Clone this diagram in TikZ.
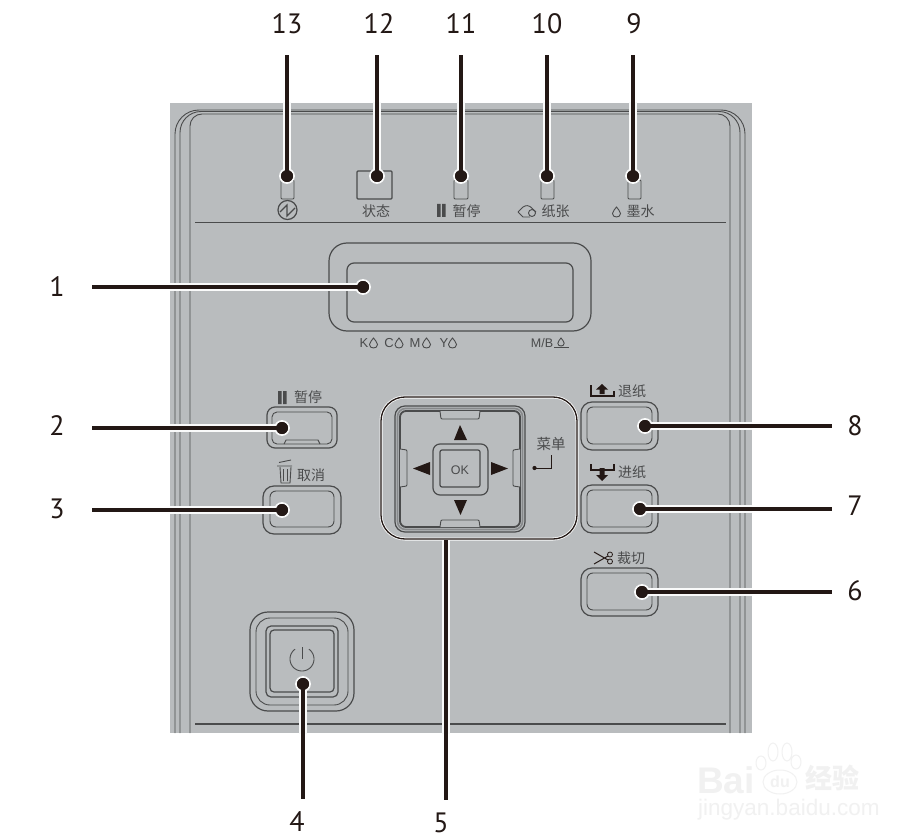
\documentclass[tikz,border=0pt]{standalone}
\usepackage{fontspec}
\setmainfont{PT Sans}
\newfontfamily\cjk{Noto Sans CJK SC}
\newfontfamily\lato{Liberation Sans}
\definecolor{panel}{HTML}{B9BCBE}
\definecolor{ink}{HTML}{231815}
\definecolor{ln}{HTML}{4A4B4C}
\definecolor{tx}{HTML}{4A4B4C}
\definecolor{wm}{HTML}{F1F1F1}
\tikzset{
  x=1pt,y=-1pt,
  pl/.style={draw=ln,line width=0.9pt},
  plb/.style={draw=ln,line width=1.2pt},
  halo/.style={draw=white!92!panel,line width=8pt},
  leader/.style={draw=ink,line width=4.4pt},
  dotn/.style={circle,fill=ink,draw=white!92!panel,line width=1.8pt,minimum size=14pt,inner sep=0pt},
  numt/.style={font=\fontsize{28}{28}\selectfont,text=ink,inner sep=0pt,minimum height=62pt,minimum width=20pt},
  numl/.style={font=\fontsize{28}{28}\selectfont,text=ink,inner sep=0pt,minimum width=70pt},
  numr/.style={font=\fontsize{28}{28}\selectfont,text=ink,inner sep=0pt,minimum width=46pt},
  numb/.style={font=\fontsize{28}{28}\selectfont,text=ink,inner sep=0pt,minimum height=46pt},
  cn/.style={font=\cjk\fontsize{14}{14}\selectfont,text=tx,inner sep=0pt},
  la/.style={font=\lato\fontsize{13}{13}\selectfont,text=tx,inner sep=0pt},
  wmt/.style={text=wm,inner sep=0pt},
  drop/.pic={\draw[draw=ln,line width=0.9pt] (0,-5) .. controls (-1,-3) and (-4,-1) .. (-4,1.5) .. controls (-4,4) and (-2,5) .. (0,5) .. controls (2,5) and (4,4) .. (4,1.5) .. controls (4,-1) and (1,-3) .. (0,-5) -- cycle;},
}
\begin{document}
\begin{tikzpicture}
\useasboundingbox (0,0) rectangle (911,840);
\fill[white] (0,0) rectangle (911,840);
% watermark
\node[wmt,font=\lato\bfseries\fontsize{37}{37}\selectfont,anchor=west] (wb) at (697,780) {Bai};
\node[wmt,font=\lato\bfseries\fontsize{16}{16}\selectfont] (wd) at (780,782) {du};
\node[wmt,font=\cjk\bfseries\fontsize{27}{27}\selectfont,anchor=west] (wj) at (805,778) {经验};
\node[wmt,font=\lato\fontsize{22.5}{23}\selectfont,anchor=west] (wu) at (698,810) {jingyan.baidu.com};
\draw[wm,line width=1pt] (773,752) ellipse (5 and 9) (787,752) ellipse (5 and 9) (761,763) ellipse (5 and 7) (796,762) ellipse (5 and 7) (780,782) ellipse (17 and 12);
% panel
\fill[panel] (170,103) rectangle (752,733);
\draw[pl,rounded corners=24] (175,733) -- (175,110) -- (745,110) -- (745,733);
\draw[pl,rounded corners=21] (180,733) -- (180,111.5) -- (740,111.5) -- (740,733);
\draw[pl,rounded corners=12] (190,733) -- (190,114) -- (730,114) -- (730,733);
\draw[plb] (195,222.7) -- (726,222.7);
\draw[plb] (195,724) -- (726,724);
% LEDs
\draw[pl,rounded corners=1] (281,180) rectangle (294,199);
\draw[plb,rounded corners=1] (357,171) rectangle (392,199);
\draw[pl,rounded corners=1] (454,180) rectangle (468,199);
\draw[pl,rounded corners=1] (541,180) rectangle (554,199);
\draw[pl,rounded corners=1] (628,180) rectangle (641,199);
% LED captions
\draw[plb] (287.5,210) circle (9.5);
\draw[plb] (280,212) -- (287,205) -- (287,216) -- (295,208);
\node[cn] (c12) at (376,211) {状态};
\fill[ln] (437,204) rectangle (440.5,217) (442,204) rectangle (445.5,217);
\node[cn] (c11) at (466.5,211) {暂停};
\draw[pl,rounded corners=1.5] (518,212) -- (524,206) -- (529,205.5) -- (536,212);
\draw[pl] (518,212) -- (523,217) -- (530,217);
\draw[pl] (532,213) circle (3.5);
\node[cn] (c10) at (555.5,211) {纸张};
\pic at (616.5,212) {drop};
\node[cn] (c9) at (640.5,211) {墨水};
% display
\draw[plb,rounded corners=18] (329,243) rectangle (591,331);
\draw[plb,rounded corners=7] (347,263) rectangle (573,322);
% ink labels
\node[la] (ik) at (364,343) {K};
\pic at (373.5,343) {drop};
\node[la] (ic) at (389,343) {C};
\pic at (399,343) {drop};
\node[la] (im) at (415,343) {M};
\pic at (426.5,343) {drop};
\node[la] (iy) at (444,343) {Y};
\pic at (452.5,343) {drop};
\node[la,font=\lato\fontsize{12.5}{13}\selectfont] (imb) at (542,343) {M/B};
\pic[scale=.8] at (561,342) {drop};
\draw[pl] (554,347.5) -- (569,347.5);
% pause button
\node[cn,anchor=west] (c2) at (294,397) {暂停};
\fill[ln] (278,391) rectangle (281.5,404) (283,391) rectangle (286.5,404);
\draw[plb,rounded corners=8] (267,407) rectangle (337,448);
\draw[pl,rounded corners=5] (272,412) rectangle (332,444);
\draw[pl] (284,444) -- (286,440) -- (318,440) -- (320,444);
% cancel button
\draw[pl] (277,466) -- (292,466) (279,462.5) -- (291,460);
\draw[pl] (280,467) -- (281,483) -- (290,483) -- (291,467) (283.5,469) -- (283.5,481) (287.5,469) -- (287.5,481);
\node[cn,anchor=west] (c3) at (297,475) {取消};
\draw[plb,rounded corners=11] (263,486) rectangle (341,534);
\draw[pl,rounded corners=6] (270,491) rectangle (334,527);
% power button
\draw[plb,rounded corners=18] (250,612) rectangle (354,711);
\draw[pl,rounded corners=14] (256,618) rectangle (348,705);
\draw[plb,rounded corners=5] (266,626) rectangle (338,697);
\draw[plb,rounded corners=4] (270,630) rectangle (334,692);
\draw[pl] (302,647) -- (302,659);
\draw[pl] plot[domain=35:325,samples=40] ({302+12*sin(\x)},{659-12*cos(\x)});
% nav cluster
\draw[draw=white!92!panel,line width=3pt,rounded corners=24] (381,397) rectangle (577,539);
\draw[draw=ink,line width=1.3pt,rounded corners=24] (381,397) rectangle (577,539);
\draw[plb,rounded corners=10] (395,406) rectangle (525,532);
\draw[draw=ln!45!panel,line width=1.6pt,rounded corners=8] (397.5,408.5) rectangle (522.5,529.5);
\draw[draw=ln,line width=1.8pt,rounded corners=6] (400,411) rectangle (520,527);
% nav tabs
\draw[pl,fill=panel,rounded corners=1] (440,411) -- (441,419) -- (479,419) -- (480,411);
\draw[pl,fill=panel,rounded corners=1] (440,527) -- (441,520) -- (479,520) -- (480,527);
\draw[pl,fill=panel,rounded corners=1] (400,449) -- (407,450) -- (407,486) -- (400,487);
\draw[pl,fill=panel,rounded corners=1] (520,449) -- (513,450) -- (513,486) -- (520,487);
% OK
\draw[plb,rounded corners=7] (433,444) rectangle (488,495);
\draw[plb,rounded corners=2] (440,450) rectangle (480,487);
\node[font=\lato\fontsize{12.5}{13}\selectfont,text=tx,inner sep=0pt] (ok) at (460,470) {OK};
\fill[ink] (460,425) -- (467,440) -- (454,440) -- cycle;
\fill[ink] (460.5,515) -- (467,500) -- (454,500) -- cycle;
\fill[ink] (413,468.5) -- (430,462) -- (430,475) -- cycle;
\fill[ink] (508,468.5) -- (491,462) -- (491,475) -- cycle;
\node[cn,font=\cjk\fontsize{14.5}{15}\selectfont] (menu) at (551,444) {菜单};
\fill[ink] (534.5,468) circle (2.1);
\draw[draw=ink,line width=0.9pt] (534.5,468) -- (551,468) -- (551,455);
% right buttons
\node[cn,anchor=west] (c8) at (618,391) {退纸};
\draw[draw=ink,line width=1.3pt] (591,385) -- (591,396) -- (614,396) -- (614,391);
\fill[ink] (602,384) -- (608,389.5) -- (604.5,389.5) -- (604.5,394) -- (599.5,394) -- (599.5,389.5) -- (596,389.5) -- cycle;
\draw[plb,rounded corners=11] (581,402) rectangle (658,450);
\draw[pl,rounded corners=6] (587,407) rectangle (652,444);
\node[cn,anchor=west] (c7) at (618,472) {进纸};
\draw[draw=ink,line width=1.3pt] (591,464) -- (591,470) -- (614,470) -- (614,464);
\fill[ink] (602,481) -- (608,475) -- (604.5,475) -- (604.5,468) -- (599.5,468) -- (599.5,475) -- (596,475) -- cycle;
\draw[plb,rounded corners=11] (581,485) rectangle (658,533);
\draw[pl,rounded corners=6] (587,490) rectangle (652,527);
\node[cn,anchor=west] (c6) at (617,558) {裁切};
\draw[draw=ink,line width=1pt] (594,552) -- (608,560) (594,564) -- (608,556);
\draw[draw=ink,line width=.8pt] (610,554.5) circle (2.5) (610,561.5) circle (2.5);
\draw[plb,rounded corners=11] (581,568) rectangle (658,616);
\draw[pl,rounded corners=6] (587,573) rectangle (652,610);
% number labels
\node[numt] (l13) at (287,24) {13};
\node[numt] (l12) at (379,24) {12};
\node[numt] (l11) at (461,24) {11};
\node[numt] (l10) at (547,24) {10};
\node[numt] (l9) at (634,24) {9};
\node[numl] (l1) at (57,287) {1};
\node[numl] (l2) at (57,426) {2};
\node[numl] (l3) at (57,509) {3};
\node[numb] (l4) at (297,822) {4};
\node[numb] (l5) at (441,823) {5};
\node[numr] (l6) at (855,591) {6};
\node[numr] (l7) at (855,506) {7};
\node[numr] (l8) at (855,426) {8};
% target dots
\node[dotn] (d13) at (287,176) {};
\node[dotn] (d12) at (377,176) {};
\node[dotn] (d11) at (461,176) {};
\node[dotn] (d10) at (547,176) {};
\node[dotn] (d9) at (633,176) {};
\node[dotn] (d1) at (363,287) {};
\node[dotn] (d2) at (282,428) {};
\node[dotn] (d3) at (282,510) {};
\node[dotn] (d4) at (303,684) {};
\node[dotn] (d8) at (645,426) {};
\node[dotn] (d7) at (640,509) {};
\node[dotn] (d6) at (642,592) {};
\coordinate (d5) at (446,540);
% leaders
\begin{scope}
\clip (170,103) rectangle (752,733);
\foreach \a/\b in {d13/l13,d12/l12,d11/l11,d10/l10,d9/l9}{\draw[halo] (\a.center) -- (\a |- \b.south);}
\foreach \a/\b in {d1/l1,d2/l2,d3/l3}{\draw[halo] (\a.center) -- (\a -| \b.east);}
\foreach \a/\b in {d8/l8,d7/l7,d6/l6}{\draw[halo] (\a.center) -- (\a -| \b.west);}
\draw[halo] (d4.center) -- (d4 |- l4.north);
\draw[halo] (d5) -- (d5 |- l5.north);
\end{scope}
\foreach \a/\b in {d13/l13,d12/l12,d11/l11,d10/l10,d9/l9}{\draw[leader] (\a.center) -- (\a |- \b.south);}
\foreach \a/\b in {d1/l1,d2/l2,d3/l3}{\draw[leader] (\a.center) -- (\a -| \b.east);}
\foreach \a/\b in {d8/l8,d7/l7,d6/l6}{\draw[leader] (\a.center) -- (\a -| \b.west);}
\draw[leader] (d4.center) -- (d4 |- l4.north);
\draw[leader] (d5) -- (d5 |- l5.north);
\foreach \a in {d13,d12,d11,d10,d9,d1,d2,d3,d4,d8,d7,d6}{\fill[ink] (\a) circle (6);}
\end{tikzpicture}
\end{document}
